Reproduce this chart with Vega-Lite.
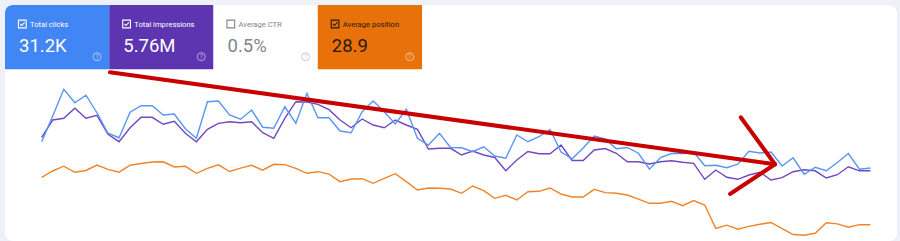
{
  "$schema": "https://vega.github.io/schema/vega-lite/v6.json",
  "width": 892,
  "height": 236,
  "autosize": {"type": "none"},
  "padding": {"left": 5, "top": 5, "right": 3, "bottom": 0},
  "background": "#eef2f8",
  "config": {
    "view": {"fill": "#ffffff", "stroke": null, "cornerRadius": 8},
    "font": "Roboto",
    "text": {"font": "Roboto"}
  },
  "datasets": {
    "cards": [
      {"metric": "clicks", "label": "Total clicks", "value": "31.2K", "checked": true},
      {"metric": "impressions", "label": "Total impressions", "value": "5.76M", "checked": true},
      {"metric": "ctr", "label": "Average CTR", "value": "0.5%", "checked": false},
      {"metric": "position", "label": "Average position", "value": "28.9", "checked": true}
    ],
    "arrow": [
      {"part": "shaft", "day": 6.18, "clicks": 675},
      {"part": "shaft", "day": 66.36, "clicks": 307},
      {"part": "head1", "day": 63.26, "clicks": 495},
      {"part": "head1", "day": 66.36, "clicks": 307},
      {"part": "head2", "day": 62.29, "clicks": 188},
      {"part": "head2", "day": 66.36, "clicks": 307}
    ],
    "days": [
      {"day": 0, "clicks": 397, "impressions": 82960, "position": 27.57},
      {"day": 1, "clicks": 500, "impressions": 96800, "position": 26.56},
      {"day": 2, "clicks": 607, "impressions": 98160, "position": 25.79},
      {"day": 3, "clicks": 553, "impressions": 106160, "position": 26.77},
      {"day": 4, "clicks": 583, "impressions": 98160, "position": 26.48},
      {"day": 5, "clicks": 513, "impressions": 100560, "position": 25.6},
      {"day": 6, "clicks": 431, "impressions": 85360, "position": 26.29},
      {"day": 7, "clicks": 413, "impressions": 79440, "position": 26.75},
      {"day": 8, "clicks": 515, "impressions": 90640, "position": 25.63},
      {"day": 9, "clicks": 541, "impressions": 98960, "position": 25.36},
      {"day": 10, "clicks": 541, "impressions": 98960, "position": 25.12},
      {"day": 11, "clicks": 504, "impressions": 93360, "position": 25.09},
      {"day": 12, "clicks": 508, "impressions": 95760, "position": 25.92},
      {"day": 13, "clicks": 449, "impressions": 86160, "position": 25.81},
      {"day": 14, "clicks": 411, "impressions": 79440, "position": 26.93},
      {"day": 15, "clicks": 557, "impressions": 89360, "position": 26.13},
      {"day": 16, "clicks": 560, "impressions": 94160, "position": 25.57},
      {"day": 17, "clicks": 504, "impressions": 95440, "position": 26.64},
      {"day": 18, "clicks": 487, "impressions": 94640, "position": 26.11},
      {"day": 19, "clicks": 524, "impressions": 95440, "position": 25.65},
      {"day": 20, "clicks": 455, "impressions": 86640, "position": 26.43},
      {"day": 21, "clicks": 451, "impressions": 82160, "position": 25.49},
      {"day": 22, "clicks": 537, "impressions": 98160, "position": 25.55},
      {"day": 23, "clicks": 471, "impressions": 111440, "position": 26.13},
      {"day": 24, "clicks": 591, "impressions": 111200, "position": 26.93},
      {"day": 25, "clicks": 493, "impressions": 109360, "position": 26.67},
      {"day": 26, "clicks": 493, "impressions": 105040, "position": 27.07},
      {"day": 27, "clicks": 440, "impressions": 96800, "position": 28.27},
      {"day": 28, "clicks": 433, "impressions": 90640, "position": 27.84},
      {"day": 29, "clicks": 517, "impressions": 97600, "position": 27.79},
      {"day": 30, "clicks": 560, "impressions": 92800, "position": 28.53},
      {"day": 31, "clicks": 517, "impressions": 90640, "position": 27.73},
      {"day": 32, "clicks": 468, "impressions": 96800, "position": 26.99},
      {"day": 33, "clicks": 527, "impressions": 92800, "position": 28.27},
      {"day": 34, "clicks": 411, "impressions": 89360, "position": 29.6},
      {"day": 35, "clicks": 384, "impressions": 73600, "position": 29.28},
      {"day": 36, "clicks": 431, "impressions": 74160, "position": 29.33},
      {"day": 37, "clicks": 374, "impressions": 74160, "position": 29.44},
      {"day": 38, "clicks": 373, "impressions": 68800, "position": 30.13},
      {"day": 39, "clicks": 357, "impressions": 72000, "position": 28.96},
      {"day": 40, "clicks": 377, "impressions": 68800, "position": 29.71},
      {"day": 41, "clicks": 340, "impressions": 66800, "position": 30.93},
      {"day": 42, "clicks": 331, "impressions": 56240, "position": 30.45},
      {"day": 43, "clicks": 424, "impressions": 64800, "position": 31.2},
      {"day": 44, "clicks": 397, "impressions": 71600, "position": 29.87},
      {"day": 45, "clicks": 417, "impressions": 69840, "position": 29.81},
      {"day": 46, "clicks": 446, "impressions": 69760, "position": 29.28},
      {"day": 47, "clicks": 356, "impressions": 76800, "position": 30.24},
      {"day": 48, "clicks": 329, "impressions": 64400, "position": 30.72},
      {"day": 49, "clicks": 372, "impressions": 64400, "position": 30.72},
      {"day": 50, "clicks": 420, "impressions": 72800, "position": 29.49},
      {"day": 51, "clicks": 408, "impressions": 74000, "position": 30.02},
      {"day": 52, "clicks": 369, "impressions": 70160, "position": 30.13},
      {"day": 53, "clicks": 374, "impressions": 63440, "position": 30.4},
      {"day": 54, "clicks": 351, "impressions": 63440, "position": 31.07},
      {"day": 55, "clicks": 287, "impressions": 61600, "position": 31.73},
      {"day": 56, "clicks": 334, "impressions": 63440, "position": 31.73},
      {"day": 57, "clicks": 350, "impressions": 64240, "position": 31.41},
      {"day": 58, "clicks": 350, "impressions": 62960, "position": 32.11},
      {"day": 59, "clicks": 356, "impressions": 62160, "position": 31.28},
      {"day": 60, "clicks": 301, "impressions": 49360, "position": 32.0},
      {"day": 61, "clicks": 303, "impressions": 56800, "position": 35.73},
      {"day": 62, "clicks": 293, "impressions": 50960, "position": 35.23},
      {"day": 63, "clicks": 307, "impressions": 49360, "position": 35.87},
      {"day": 64, "clicks": 359, "impressions": 52800, "position": 35.41},
      {"day": 65, "clicks": 352, "impressions": 54960, "position": 35.07},
      {"day": 66, "clicks": 356, "impressions": 48800, "position": 34.8},
      {"day": 67, "clicks": 300, "impressions": 50640, "position": 35.79},
      {"day": 68, "clicks": 333, "impressions": 55440, "position": 36.72},
      {"day": 69, "clicks": 267, "impressions": 57040, "position": 36.85},
      {"day": 70, "clicks": 295, "impressions": 56160, "position": 36.53},
      {"day": 71, "clicks": 281, "impressions": 50400, "position": 34.83},
      {"day": 72, "clicks": 314, "impressions": 53040, "position": 35.02},
      {"day": 73, "clicks": 350, "impressions": 59360, "position": 35.55},
      {"day": 74, "clicks": 287, "impressions": 56160, "position": 35.15},
      {"day": 75, "clicks": 292, "impressions": 56160, "position": 35.15}
    ]
  },
  "layer": [
    {
      "data": {"name": "cards"},
      "mark": {"type": "rect", "cornerRadiusTopLeft": {"expr": "datum.metric == 'clicks' ? 8 : 0"}},
      "encoding": {
        "x": {"field": "metric", "type": "nominal", "axis": null, "scale": {"domain": ["clicks", "impressions", "ctr", "position"], "range": [0, 417], "paddingInner": 0, "paddingOuter": 0}},
        "y": {"datum": "card", "type": "nominal", "axis": null, "scale": {"domain": ["card"], "range": [0, 64.3], "paddingInner": 0, "paddingOuter": 0}},
        "color": {"field": "metric", "type": "nominal", "legend": null, "scale": {"domain": ["clicks", "impressions", "ctr", "position"], "range": ["#4285f4", "#5e35b1", "#ffffff", "#e8710a"]}}
      }
    },
    {
      "data": {"name": "cards"},
      "mark": {"type": "text", "align": "left", "baseline": "alphabetic", "fontSize": 7.6, "font": "Roboto", "xOffset": -27.1, "yOffset": -10.45},
      "encoding": {
        "x": {"field": "metric", "type": "nominal", "axis": null, "scale": {"domain": ["clicks", "impressions", "ctr", "position"], "range": [0, 417], "paddingInner": 0, "paddingOuter": 0}},
        "y": {"datum": "card", "type": "nominal", "axis": null, "scale": {"domain": ["card"], "range": [0, 64.3], "paddingInner": 0, "paddingOuter": 0}},
        "text": {"field": "label"},
        "color": {"field": "metric", "type": "nominal", "legend": null, "scale": {"domain": ["clicks", "impressions", "ctr", "position"], "range": ["#ffffff", "#ffffff", "#80868b", "#2a1a0c"]}}
      }
    },
    {
      "data": {"name": "cards"},
      "mark": {"type": "text", "align": "left", "baseline": "alphabetic", "fontSize": 18.5, "font": "Roboto", "xOffset": -38.1, "yOffset": 14.55},
      "encoding": {
        "x": {"field": "metric", "type": "nominal", "axis": null, "scale": {"domain": ["clicks", "impressions", "ctr", "position"], "range": [0, 417], "paddingInner": 0, "paddingOuter": 0}},
        "y": {"datum": "card", "type": "nominal", "axis": null, "scale": {"domain": ["card"], "range": [0, 64.3], "paddingInner": 0, "paddingOuter": 0}},
        "text": {"field": "value"},
        "color": {"field": "metric", "type": "nominal", "legend": null, "scale": {"domain": ["clicks", "impressions", "ctr", "position"], "range": ["#ffffff", "#ffffff", "#80868b", "#2a1a0c"]}}
      }
    },
    {
      "data": {"name": "cards"},
      "mark": {"type": "point", "shape": "square", "filled": false, "size": 60, "strokeWidth": 1.1, "opacity": 1, "xOffset": -34.8, "yOffset": -13.15},
      "encoding": {
        "x": {"field": "metric", "type": "nominal", "axis": null, "scale": {"domain": ["clicks", "impressions", "ctr", "position"], "range": [0, 417], "paddingInner": 0, "paddingOuter": 0}},
        "y": {"datum": "card", "type": "nominal", "axis": null, "scale": {"domain": ["card"], "range": [0, 64.3], "paddingInner": 0, "paddingOuter": 0}},
        "color": {"field": "metric", "type": "nominal", "legend": null, "scale": {"domain": ["clicks", "impressions", "ctr", "position"], "range": ["#ffffff", "#ffffff", "#80868b", "#2a1a0c"]}}
      }
    },
    {
      "data": {"name": "cards"},
      "transform": [{"filter": "datum.checked"}],
      "mark": {"type": "point", "shape": "M-0.55,0.0L-0.15,0.4L0.6,-0.4", "filled": false, "size": 60, "strokeWidth": 1.1, "opacity": 1, "xOffset": -34.8, "yOffset": -13.15},
      "encoding": {
        "x": {"field": "metric", "type": "nominal", "axis": null, "scale": {"domain": ["clicks", "impressions", "ctr", "position"], "range": [0, 417], "paddingInner": 0, "paddingOuter": 0}},
        "y": {"datum": "card", "type": "nominal", "axis": null, "scale": {"domain": ["card"], "range": [0, 64.3], "paddingInner": 0, "paddingOuter": 0}},
        "color": {"field": "metric", "type": "nominal", "legend": null, "scale": {"domain": ["clicks", "impressions", "ctr", "position"], "range": ["#ffffff", "#ffffff", "#80868b", "#2a1a0c"]}}
      }
    },
    {
      "data": {"name": "cards"},
      "mark": {"type": "point", "shape": "circle", "filled": false, "size": 64, "strokeWidth": 1, "opacity": 0.55, "xOffset": 39.9, "yOffset": 19.55},
      "encoding": {
        "x": {"field": "metric", "type": "nominal", "axis": null, "scale": {"domain": ["clicks", "impressions", "ctr", "position"], "range": [0, 417], "paddingInner": 0, "paddingOuter": 0}},
        "y": {"datum": "card", "type": "nominal", "axis": null, "scale": {"domain": ["card"], "range": [0, 64.3], "paddingInner": 0, "paddingOuter": 0}},
        "color": {"field": "metric", "type": "nominal", "legend": null, "scale": {"domain": ["clicks", "impressions", "ctr", "position"], "range": ["#ffffff", "#ffffff", "#9aa0a6", "#ffffff"]}}
      }
    },
    {
      "data": {"name": "cards"},
      "mark": {"type": "text", "text": "?", "align": "center", "baseline": "middle", "fontSize": 6.5, "font": "Roboto", "opacity": 0.55, "xOffset": 39.9, "yOffset": 19.55},
      "encoding": {
        "x": {"field": "metric", "type": "nominal", "axis": null, "scale": {"domain": ["clicks", "impressions", "ctr", "position"], "range": [0, 417], "paddingInner": 0, "paddingOuter": 0}},
        "y": {"datum": "card", "type": "nominal", "axis": null, "scale": {"domain": ["card"], "range": [0, 64.3], "paddingInner": 0, "paddingOuter": 0}},
        "color": {"field": "metric", "type": "nominal", "legend": null, "scale": {"domain": ["clicks", "impressions", "ctr", "position"], "range": ["#ffffff", "#ffffff", "#9aa0a6", "#ffffff"]}}
      }
    },
    {
      "data": {"name": "days"},
      "mark": {"type": "line", "color": "#f0842a", "strokeWidth": 1.4},
      "encoding": {
        "x": {"field": "day", "type": "quantitative", "axis": null, "scale": {"domain": [-3.32, 77.4], "nice": false, "zero": false}},
        "y": {"field": "position", "type": "quantitative", "axis": null, "scale": {"domain": [0, 37.76], "reverse": true, "nice": false, "zero": false}}
      }
    },
    {
      "data": {"name": "days"},
      "mark": {"type": "line", "color": "#7148c0", "strokeWidth": 1.4},
      "encoding": {
        "x": {"field": "day", "type": "quantitative", "axis": null, "scale": {"domain": [-3.32, 77.4], "nice": false, "zero": false}},
        "y": {"field": "impressions", "type": "quantitative", "axis": null, "scale": {"domain": [0, 188800], "nice": false, "zero": false}}
      }
    },
    {
      "data": {"name": "days"},
      "mark": {"type": "line", "color": "#5896f5", "strokeWidth": 1.4},
      "encoding": {
        "x": {"field": "day", "type": "quantitative", "axis": null, "scale": {"domain": [-3.32, 77.4], "nice": false, "zero": false}},
        "y": {"field": "clicks", "type": "quantitative", "axis": null, "scale": {"domain": [0, 944], "nice": false, "zero": false}}
      }
    },
    {
      "data": {"name": "arrow"},
      "mark": {"type": "line", "color": "#c80000", "strokeWidth": 4, "strokeCap": "round"},
      "encoding": {
        "x": {"field": "day", "type": "quantitative", "axis": null, "scale": {"domain": [-3.32, 77.4], "nice": false, "zero": false}},
        "y": {"field": "clicks", "type": "quantitative", "axis": null, "scale": {"domain": [0, 944], "nice": false, "zero": false}},
        "detail": {"field": "part", "type": "nominal"}
      }
    }
  ],
  "resolve": {"scale": {"x": "independent", "y": "independent", "color": "independent"}}
}
